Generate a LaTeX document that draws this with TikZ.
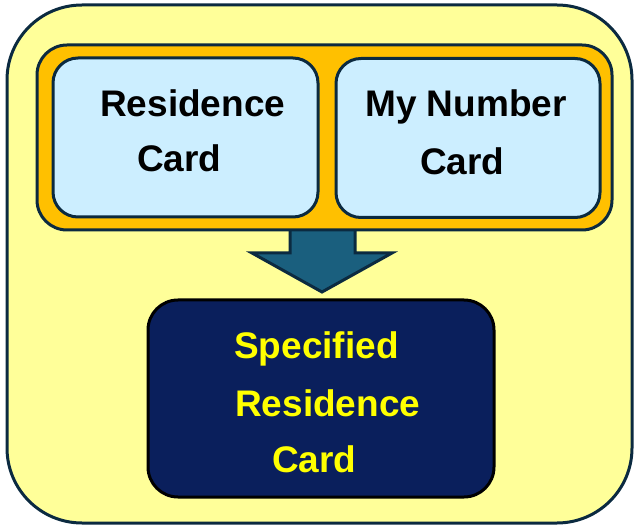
\documentclass[tikz,border=0pt]{standalone}
\usepackage{fontspec}
\setmainfont{Liberation Sans}
\definecolor{outerfill}{HTML}{FFFF99}
\definecolor{edgecol}{HTML}{0B2A40}
\definecolor{orangefill}{HTML}{FFC000}
\definecolor{cardfill}{HTML}{CCEEFF}
\definecolor{arrowfill}{HTML}{1A5F7E}
\definecolor{navyfill}{HTML}{0A1F5C}
\definecolor{txtyellow}{HTML}{FFFF00}
\begin{document}
\begin{tikzpicture}[x=1pt,y=-1pt,
  boxline/.style={line width=3pt,draw=edgecol},
  lbl/.style={anchor=base west,inner sep=0pt,font=\fontsize{37}{42}\selectfont\bfseries},
  blacklbl/.style={lbl,text=black},
  yellowlbl/.style={lbl,text=txtyellow}]
\useasboundingbox (0,0) rectangle (634,526);
% outer panel
\draw[boxline,fill=outerfill,rounded corners=75pt] (7,5) rectangle (632,523);
% arrow
\coordinate (atop) at (322,226);
\draw[boxline,fill=arrowfill,line join=miter]
  (290,226) -- (290,253) -- (252,253) -- (322,292) -- (392,253) -- (355,253) -- (355,226);
% orange group
\node[boxline,fill=orangefill,rounded corners=30pt,inner sep=0pt,minimum width=575pt,minimum height=185pt] (grp) at (324.5,137.5) {};
% cards
\node[boxline,fill=cardfill,rounded corners=25pt,inner sep=0pt,minimum width=265pt,minimum height=159pt] (rc) at (185.5,137.5) {};
\node[boxline,fill=cardfill,rounded corners=25pt,inner sep=0pt,minimum width=264pt,minimum height=159pt] (mn) at (468,138) {};
% specified box
\node[line width=3pt,draw=black,fill=navyfill,rounded corners=30pt,inner sep=0pt,minimum width=346pt,minimum height=197pt] (sr) at (321,398.5) {};
% texts
\node[blacklbl] (rc1) at (100,117) {Residence};
\node[blacklbl] (rc2) at (137,172) {Card};
\node[blacklbl] (mn1) at (365,117) {My Number};
\node[blacklbl] (mn2) at (420,175) {Card};
\node[yellowlbl] (sr1) at (234,358) {Specified};
\node[yellowlbl] (sr2) at (235,416) {Residence};
\node[yellowlbl] (sr3) at (272,472) {Card};
\end{tikzpicture}
\end{document}
